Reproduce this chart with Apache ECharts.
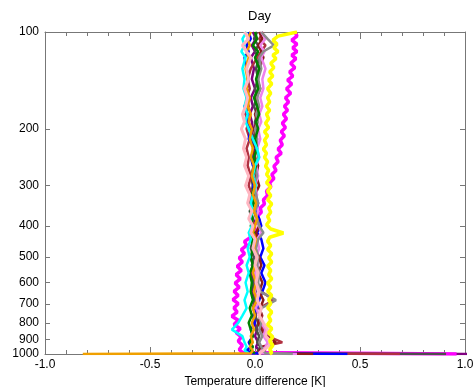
<!DOCTYPE html>
<html>
<head>
<meta charset="utf-8">
<script src="https://cdn.jsdelivr.net/npm/echarts@6/dist/echarts.min.js"></script>
<style>
html,body{margin:0;padding:0;background:#fff;}
#chart{width:473px;height:387px;}
</style>
</head>
<body>
<div id="chart"></div>
<script>
// Pressure levels (hPa)
var levels = [100,105,110,115,120,130,140,150,160,170,180,190,200,215,230,245,260,280,300,320,340,360,380,400,420,440,470,500,530,560,600,640,680,720,760,800,840,880,920,950,975,995,1000];
var levelsFine = [100,103,106,109,112,115,118,121,125,129,133,137,141,145,150,155,160,165,170,175,180,186,192,198,204,210,217,224,231,238,245,253,261,269,277,285,294,303,312,322,332,342,352,363,374,385,397,409,421,434,447,460,474,488,503,518,534,550,567,584,602,620,639,658,678,698,719,741,763,786,810,834,859,885,912,940,968,990,1000];
var pressureTicks = [100,200,300,400,500,600,700,800,900,1000];

var purple   = [-0.01,0.005,-0.015,0.0,-0.02,-0.005,-0.015,0.0,-0.02,-0.01,-0.025,-0.015,-0.01,-0.02,-0.005,-0.015,0.0,-0.01,0.005,-0.005,0.01,0.0,0.005,-0.01,0.0,-0.015,-0.005,-0.02,-0.01,-0.02,-0.005,-0.015,0.0,-0.01,0.005,-0.005,0.01,0.0,0.015,0.005,0.02,0.01,1.05];
var darkgray = [0.01,-0.005,0.015,0.0,0.02,0.005,0.015,0.0,0.01,-0.005,0.01,0.0,0.005,-0.01,0.0,-0.015,-0.005,-0.02,-0.01,-0.02,-0.01,-0.025,-0.015,-0.005,-0.02,-0.01,-0.02,-0.005,-0.015,0.0,-0.01,0.005,-0.005,0.01,0.0,0.015,0.005,0.02,0.01,0.025,0.015,0.01,0.91];
var brown    = [0.04,0.02,0.05,0.03,0.01,-0.02,-0.035,-0.025,-0.04,-0.03,-0.045,-0.03,-0.04,-0.025,-0.04,-0.03,-0.035,-0.02,-0.03,-0.015,-0.025,-0.01,-0.02,0.0,-0.01,0.01,0.0,0.015,0.005,0.02,0.01,0.03,0.09,0.02,0.035,0.02,0.04,0.06,0.13,0.03,0.05,0.02,0.69];
var blue     = [-0.03,-0.02,-0.04,-0.03,-0.05,-0.04,-0.03,-0.045,-0.03,-0.05,-0.035,-0.04,-0.02,-0.03,0.0,-0.02,-0.01,0.01,-0.01,0.0,0.015,0.005,0.02,0.03,0.01,0.03,0.04,0.025,0.045,0.03,0.05,0.035,0.02,0.01,-0.01,0.0,-0.02,-0.01,-0.03,-0.02,-0.04,-0.01,0.44];
var maroon   = [0.02,0.035,0.015,0.03,0.04,0.02,0.01,0.025,0.005,0.015,0.0,0.01,-0.005,0.01,-0.01,0.0,0.015,0.005,0.02,0.0,0.01,-0.005,0.01,0.02,0.005,0.015,0.0,0.02,0.03,0.015,0.035,0.02,0.04,0.025,0.03,0.015,0.03,0.05,0.1,0.04,0.02,0.03,0.277];
var violet   = [0.03,0.05,0.025,0.045,0.03,0.05,0.035,0.04,0.025,0.035,0.02,0.03,0.015,0.025,0.01,0.02,0.005,0.015,0.0,0.01,0.0,0.015,0.005,0.02,0.03,0.01,0.02,0.005,0.015,0.0,0.01,0.0,0.015,0.005,0.02,0.03,0.05,0.04,0.06,0.05,0.03,0.02,0.2];
var gray     = [0.03,0.06,0.09,0.04,0.02,0.03,0.015,0.025,0.01,0.02,0.005,0.015,0.0,0.01,0.005,0.015,0.0,0.01,-0.005,0.005,0.015,0.0,0.01,0.02,0.04,0.015,0.005,0.015,0.01,0.02,0.015,0.025,0.1,0.03,0.02,0.03,0.02,0.035,0.02,0.03,0.04,0.05,0.18];
var green    = [0.0,0.01,-0.01,0.015,0.0,0.02,0.005,0.015,-0.005,0.01,0.02,0.005,0.015,0.0,0.01,-0.005,0.005,-0.01,0.0,-0.015,-0.005,-0.02,-0.01,-0.02,-0.005,-0.015,-0.01,-0.02,-0.01,-0.025,-0.015,-0.02,-0.01,-0.025,-0.015,-0.03,-0.02,-0.01,-0.025,-0.01,-0.02,0.0,0.0];
var cyan     = [-0.04,-0.06,-0.05,-0.065,-0.045,-0.06,-0.05,-0.055,-0.04,-0.05,-0.035,-0.045,-0.03,-0.01,0.01,0.02,0.0,-0.01,0.005,-0.01,-0.02,-0.01,-0.025,-0.015,-0.03,-0.02,-0.035,-0.025,-0.04,-0.03,-0.045,-0.035,-0.05,-0.04,-0.06,-0.08,-0.11,-0.06,-0.05,-0.04,-0.05,-0.03,-0.03];
var orange   = [-0.02,-0.035,-0.025,-0.04,-0.03,-0.045,-0.035,-0.04,-0.025,-0.035,-0.02,-0.03,-0.015,-0.025,-0.01,-0.02,-0.005,-0.015,0.0,-0.01,0.005,-0.005,0.01,0.0,-0.01,0.005,-0.005,0.01,0.0,-0.01,0.005,-0.005,0.01,-0.01,0.0,-0.015,-0.005,-0.02,-0.01,-0.025,-0.01,-0.02,-0.82];
var pink     = [-0.05,-0.03,-0.06,-0.04,-0.02,-0.04,-0.03,-0.05,-0.035,-0.045,-0.06,-0.05,-0.065,-0.045,-0.055,-0.04,-0.05,-0.03,-0.045,-0.025,-0.035,-0.015,-0.03,-0.01,-0.02,0.0,-0.01,0.01,0.0,0.015,0.005,0.02,0.01,0.03,0.02,0.04,0.06,0.05,0.08,0.06,0.04,0.02,0.03];
// fine-level profiles
var magenta  = [0.19,0.2,0.175,0.2,0.18,0.2,0.175,0.195,0.17,0.19,0.165,0.18,0.155,0.175,0.15,0.17,0.145,0.16,0.14,0.155,0.135,0.15,0.13,0.145,0.125,0.14,0.12,0.13,0.11,0.125,0.1,0.11,0.09,0.1,0.08,0.09,0.07,0.075,0.055,0.06,0.04,0.045,0.025,0.03,0.01,0.02,-0.005,0.0,-0.025,-0.02,-0.05,-0.04,-0.065,-0.05,-0.075,-0.06,-0.085,-0.065,-0.09,-0.07,-0.095,-0.075,-0.1,-0.08,-0.105,-0.08,-0.1,-0.085,-0.11,-0.08,-0.1,-0.07,-0.09,-0.065,-0.08,-0.06,-0.075,-0.06,0.96];
var yellow   = [0.2,0.11,0.085,0.105,0.09,0.11,0.085,0.1,0.075,0.09,0.07,0.085,0.065,0.08,0.06,0.075,0.06,0.07,0.055,0.07,0.055,0.065,0.05,0.065,0.045,0.06,0.045,0.055,0.04,0.055,0.045,0.06,0.05,0.065,0.055,0.07,0.055,0.075,0.06,0.075,0.06,0.08,0.065,0.075,0.06,0.07,0.055,0.075,0.135,0.07,0.06,0.075,0.06,0.08,0.065,0.08,0.06,0.075,0.065,0.08,0.06,0.075,0.06,0.08,0.065,0.075,0.06,0.08,0.065,0.075,0.06,0.08,0.065,0.085,0.07,0.085,0.07,0.08,0.07];

var seriesDefs = [
  ['purple', purple, levels, '#800080', 2.5],
  ['magenta', magenta, levelsFine, '#ff00ff', 3.5],
  ['darkgray', darkgray, levels, '#4d4d4d', 2.5],
  ['brown', brown, levels, '#b03040', 2.5],
  ['blue', blue, levels, '#0000ff', 2.5],
  ['maroon', maroon, levels, '#8b1a1a', 2.5],
  ['violet', violet, levels, '#ee82ee', 2.5],
  ['gray', gray, levels, '#8c8c8c', 2.5],
  ['green', green, levels, '#008000', 2.5],
  ['cyan', cyan, levels, '#00ffff', 2.5],
  ['orange', orange, levels, '#f0a000', 2.5],
  ['pink', pink, levels, '#ffb6c1', 3],
  ['yellow', yellow, levelsFine, '#ffff00', 3.5]
];

var series = seriesDefs.map(function (d) {
  var lv = d[2];
  return {
    name: d[0],
    type: 'line',
    symbol: 'none',
    data: d[1].map(function (v, i) { return [v, lv[i]]; }),
    lineStyle: { color: d[3], width: d[4] },
    itemStyle: { color: d[3] },
    animation: false
  };
});

var axisColor = '#777';
var font = 'Liberation Sans, Arial, sans-serif';

function xAx(pos, showLabel) {
  return {
    type: 'value', position: pos, min: -1, max: 1, interval: 0.5,
    axisLine: { show: true, onZero: false, lineStyle: { color: axisColor, width: 1 } },
    axisTick: { show: true, inside: true, length: 7, lineStyle: { color: axisColor } },
    minorTick: { show: true, splitNumber: 5, length: 4, lineStyle: { color: axisColor } },
    splitLine: { show: false },
    axisLabel: { show: showLabel, color: '#000', fontSize: 12, fontFamily: font, margin: 5,
      formatter: function (v) { return v.toFixed(1); } },
    name: showLabel ? 'Temperature difference [K]' : '',
    nameLocation: 'middle', nameGap: 17,
    nameTextStyle: { color: '#000', fontSize: 12, fontFamily: font }
  };
}
function yAx(pos, showLabel) {
  return {
    type: 'log', logBase: 10, position: pos, min: 100, max: 1000, inverse: true,
    axisLine: { show: true, onZero: false, lineStyle: { color: axisColor, width: 1 } },
    axisTick: { show: true, inside: true, length: 5, customValues: pressureTicks, lineStyle: { color: axisColor } },
    splitLine: { show: false },
    axisLabel: { show: showLabel, color: '#000', fontSize: 12, fontFamily: font, margin: 6,
      customValues: pressureTicks, formatter: function (v) { return String(Math.round(v)); } }
  };
}

var chart = echarts.init(document.getElementById('chart'), null, { renderer: 'canvas' });
chart.setOption({
  backgroundColor: '#fff',
  animation: false,
  title: { text: 'Day', left: 243, top: 5, textStyle: { fontSize: 13, fontWeight: 'normal', color: '#000', fontFamily: font } },
  grid: { left: 45, right: 8, top: 32, bottom: 33, containLabel: false, outerBoundsMode: 'none' },
  xAxis: [xAx('bottom', true), xAx('top', false)],
  yAxis: [yAx('left', true), yAx('right', false)],
  series: series
});
</script>
</body>
</html>
